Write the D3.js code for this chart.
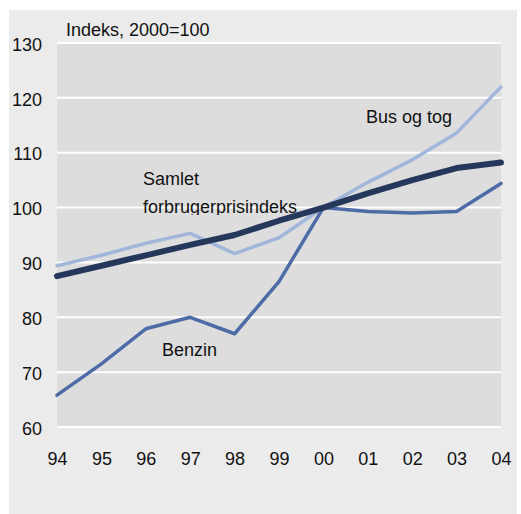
<!DOCTYPE html>
<html>
<head>
<meta charset="utf-8">
<script src="https://cdn.jsdelivr.net/npm/d3@7"></script>
<style>
  html, body { margin: 0; padding: 0; background: #fff; }
  svg { display: block; font-family: "Liberation Sans", Arial, sans-serif; }
</style>
</head>
<body>
<div id="chart"></div>
<script>
// years on the x axis
const years = ['94', '95', '96', '97', '98', '99', '00', '01', '02', '03', '04'];
// index series, 2000=100
const samlet = [87.5, 89.4, 91.3, 93.2, 95.0, 97.6, 100, 102.6, 105.0, 107.2, 108.2];
const busOgTog = [89.4, 91.3, 93.5, 95.3, 91.6, 94.5, 100, 104.6, 108.7, 113.6, 122.0];
const benzin = [65.8, 71.5, 77.9, 80.0, 77.0, 86.5, 100, 99.3, 99.0, 99.3, 104.4];
const yTicks = [60, 70, 80, 90, 100, 110, 120, 130];

const W = 521, H = 514;
const m = { t: 43, r: 20, b: 87, l: 57 };

const svg = d3.select('#chart').append('svg')
  .attr('width', W).attr('height', H);

// grey panel and plot background
svg.append('rect').attr('x', 9).attr('y', 10).attr('width', 508).attr('height', H - 10).attr('fill', '#ebebeb');

const x = d3.scalePoint().domain(years).range([m.l, W - m.r]);
const y = d3.scaleLinear().domain([60, 130]).range([H - m.b, m.t]);

svg.append('rect')
  .attr('x', x.range()[0]).attr('y', y(130))
  .attr('width', x.range()[1] - x.range()[0]).attr('height', y(60) - y(130))
  .attr('fill', '#dddddd');

// gridlines
svg.append('g').selectAll('line')
  .data(yTicks)
  .join('line')
  .attr('x1', x.range()[0]).attr('x2', x.range()[1])
  .attr('y1', d => y(d)).attr('y2', d => y(d))
  .attr('stroke', '#fff').attr('stroke-width', 2);

// axes (text only)
const yAxis = svg.append('g')
  .attr('transform', `translate(${m.l},0)`)
  .call(d3.axisLeft(y).tickValues(yTicks).tickSize(0).tickPadding(15));
yAxis.select('.domain').remove();
yAxis.selectAll('text').attr('font-size', 18).attr('fill', '#111').attr('dy', '0.4em')
  .style('font-family', '"Liberation Sans", Arial, sans-serif');

const xAxis = svg.append('g')
  .attr('transform', `translate(0,${y(60)})`)
  .call(d3.axisBottom(x).tickSize(0).tickPadding(25));
xAxis.select('.domain').remove();
xAxis.selectAll('text').attr('font-size', 18).attr('fill', '#111')
  .style('font-family', '"Liberation Sans", Arial, sans-serif');

svg.append('text')
  .attr('x', 66).attr('y', 36)
  .attr('font-size', 18).attr('fill', '#111')
  .text('Indeks, 2000=100');

// labels (drawn under the lines)
const clip = svg.append('clipPath').attr('id', 'lblclip');
clip.append('rect').attr('x', 0).attr('y', 0).attr('width', W).attr('height', 215);

const labels = svg.append('g').attr('font-size', 18).attr('fill', '#111');
labels.append('text').attr('x', 143).attr('y', 185).text('Samlet');
labels.append('text').attr('x', 143).attr('y', 213).attr('clip-path', 'url(#lblclip)').text('forbrugerprisindeks');
labels.append('text').attr('x', 366).attr('y', 123).text('Bus og tog');
labels.append('text').attr('x', 162).attr('y', 356).text('Benzin');

const line = d3.line().x((d, i) => x(years[i])).y(d => y(d));

const series = [
  { values: benzin, color: '#4d6ba6', width: 3.5 },
  { values: busOgTog, color: '#a2b6dc', width: 3.5 },
  { values: samlet, color: '#25385b', width: 6 }
];

svg.append('g').selectAll('path')
  .data(series)
  .join('path')
  .attr('d', d => line(d.values))
  .attr('fill', 'none')
  .attr('stroke', d => d.color)
  .attr('stroke-width', d => d.width)
  .attr('stroke-linejoin', 'round')
  .attr('stroke-linecap', 'round');
</script>
</body>
</html>
